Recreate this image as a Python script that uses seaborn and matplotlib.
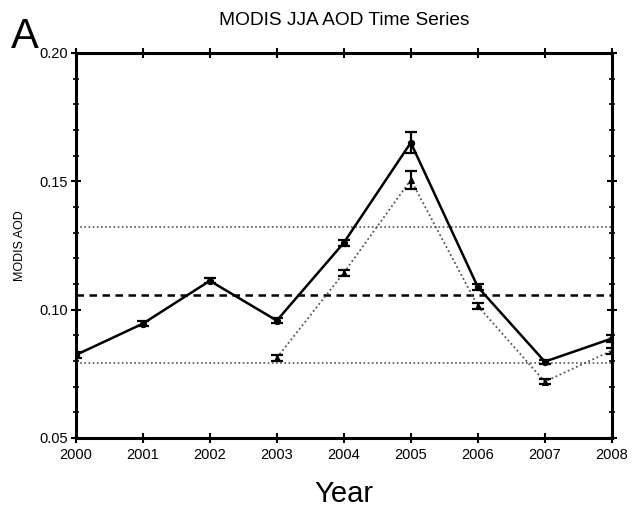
import matplotlib
matplotlib.use("Agg")
import matplotlib.pyplot as plt
import seaborn as sns
import pandas as pd
import numpy as np
from matplotlib.ticker import MultipleLocator

years = [2000, 2001, 2002, 2003, 2004, 2005, 2006, 2007, 2008]
aod_all = [0.0823, 0.0945, 0.1112, 0.0957, 0.1260, 0.1650, 0.1088, 0.0797, 0.0887]
err_all = [0.0010, 0.0010, 0.0010, 0.0010, 0.0012, 0.0040, 0.0010, 0.0008, 0.0012]
years_tri = [2003, 2004, 2005, 2006, 2007, 2008]
aod_tri = [0.0812, 0.1143, 0.1505, 0.1014, 0.0719, 0.0840]
err_tri = [0.0012, 0.0012, 0.0035, 0.0012, 0.0010, 0.0012]
mean_line = 0.1057
upper_line = 0.1322
lower_line = 0.0790

sns.set_style("white")
plt.rcParams['font.family'] = ['Liberation Sans', 'DejaVu Sans']
plt.rcParams['text.color'] = 'black'
plt.rcParams['axes.labelcolor'] = 'black'
plt.rcParams['xtick.color'] = 'black'
plt.rcParams['ytick.color'] = 'black'

fig = plt.figure(figsize=(6.32, 5.08), dpi=100)
ax = fig.add_axes([0.120, 0.138, 0.848, 0.758])

df1 = pd.DataFrame({"Year": years, "AOD": aod_all})
df2 = pd.DataFrame({"Year": years_tri, "AOD": aod_tri})

ax.axhline(mean_line, color="black", lw=1.8, ls=(0, (3, 2.2)), zorder=1)
ax.axhline(upper_line, color="#555555", lw=1.2, ls=(0, (1, 1.5)), zorder=1)
ax.axhline(lower_line, color="#555555", lw=1.2, ls=(0, (1, 1.5)), zorder=1)

sns.lineplot(data=df2, x="Year", y="AOD", ax=ax, color="#555555", lw=1.3,
             linestyle=(0, (1, 1.5)), marker="^", markersize=5,
             markeredgecolor="black", markerfacecolor="black", zorder=2)
sns.lineplot(data=df1, x="Year", y="AOD", ax=ax, color="black", lw=1.8,
             marker="o", markersize=4.5, markeredgecolor="black", zorder=3)

ax.errorbar(years, aod_all, yerr=err_all, fmt="none", ecolor="black",
            elinewidth=1.6, capsize=4, capthick=1.6, zorder=4)
ax.errorbar(years_tri, aod_tri, yerr=err_tri, fmt="none", ecolor="black",
            elinewidth=1.6, capsize=4, capthick=1.6, zorder=4)

ax.set_xlim(2000, 2008)
ax.set_ylim(0.05, 0.20)
ax.set_xticks(years)
ax.set_xticklabels([str(y) for y in years], fontsize=10.5)
ax.set_yticks([0.05, 0.10, 0.15, 0.20])
ax.set_yticklabels(["0.05", "0.10", "0.15", "0.20"], fontsize=10.5)
ax.yaxis.set_minor_locator(MultipleLocator(0.01))

for s in ax.spines.values():
    s.set_linewidth(2.2)
    s.set_color("black")

ax.tick_params(axis="both", which="major", direction="inout", length=7, width=1.5,
               top=True, right=True, bottom=True, left=True)
ax.tick_params(axis="x", which="major", pad=4)
ax.tick_params(axis="y", which="major", pad=2)
ax.tick_params(axis="y", which="minor", direction="inout", length=5, width=1.2,
               left=True, right=True)

ax.set_xlabel("Year", fontsize=21, labelpad=13)
ax.set_ylabel("MODIS AOD", fontsize=9, labelpad=10)
ax.set_title("MODIS JJA AOD Time Series", fontsize=13.8, pad=20)
fig.text(0.018, 1 - 48 / 508, "A", fontsize=30, ha="left", va="baseline")

fig.savefig("out.png", dpi=100)
